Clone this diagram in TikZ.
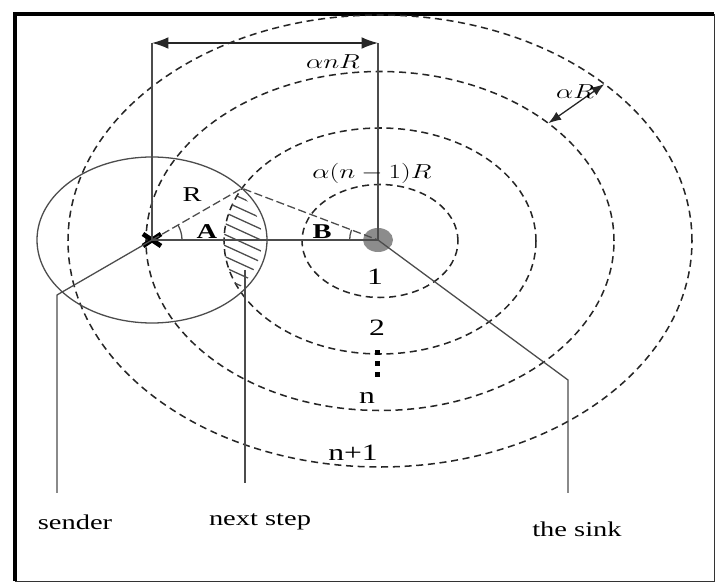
\documentclass[tikz,border=0pt]{standalone}
\usepackage{fontspec}
\setmainfont{Liberation Serif}
\usetikzlibrary{arrows.meta,calc,intersections,angles}

\begin{document}
\begin{tikzpicture}[x=0.03cm, y=0.03cm, >=Latex,
  ring/.style={black!85, line width=1.3pt, dash pattern=on 6pt off 4pt},
  thin line/.style={black!70, line width=1.1pt},
  ray/.style={black!70, line width=1.1pt, dash pattern=on 7pt off 3pt},
  lbl/.style={inner sep=0pt, xscale=1.35},
  ]
  \useasboundingbox (0,0) rectangle (715,584);

  % Frame
  \draw[black!80, line width=0.8pt] (15,3) rectangle (714,570);
  \draw[black, line width=4pt] (15,3) -- (15,570) -- (714,570);

  % Key points
  \coordinate (ctr) at (380,343);
  \coordinate (sender) at (152,344);
  \coordinate (sink) at (378,344);

  % Hop rings round the sink
  \foreach \k in {1,...,4}
    \draw[ring] (ctr) ellipse [x radius={78*\k}, y radius={56.5*\k}];
  \path[name path=ringtwo] (ctr) ellipse [x radius=156, y radius=113];

  % Transmission range of the sender
  \draw[thin line, name path=range] (sender) ellipse [x radius=115, y radius=83];
  \path[name intersections={of=range and ringtwo, sort by=range, by={lenstop,lensbot}}];

  % Hatched next-step region
  \begin{scope}
    \clip (sender) ellipse [x radius=110, y radius=78];
    \clip (ctr) ellipse [x radius=156, y radius=113];
    \foreach \k in {0,...,12}
      \draw[thin line] (215,{420-11*\k}) -- ++(70,-32);
  \end{scope}

  % Sink and sender marks
  \fill[black!45] (sink) ellipse [x radius=15, y radius=12];
  \draw[black, line width=4pt] (sender) ++(-9,-6) -- ++(18,12);
  \draw[black, line width=4pt] (sender) ++(-9,6) -- ++(18,-12);

  % Distances and angles
  \draw[thin line] (sender) -- (sink);
  \draw[ray] (sender) -- (lenstop) -- (sink);
  \pic[draw, thin line, angle radius=0.9cm] {angle=sink--sender--lenstop};
  \pic[draw, thin line, angle radius=0.85cm] {angle=lenstop--sink--sender};
  \node[lbl, font=\fontsize{18}{20}\selectfont\bfseries] (angA) at (207,352) {A};
  \node[lbl, font=\fontsize{18}{20}\selectfont\bfseries] (angB) at (322,352) {B};
  \node[lbl, font=\fontsize{18}{20}\selectfont] (rlbl) at (192,389) {R};

  \coordinate (dimL) at (152,541);
  \coordinate (dimR) at (378,541);
  \draw[thin line] (sender) -- (dimL);
  \draw[thin line] (sink) -- (dimR);
  \draw[<->, thin line, black!85, >={Latex[length=14pt,width=10pt]}] (dimL) -- (dimR);
  \node[lbl, font=\fontsize{17}{19}\selectfont] (anr) at (333,522) {$\alpha nR$};
  \node[lbl, font=\fontsize{17}{19}\selectfont] (an1r) at (372,411) {$\alpha(n-1)R$};

  \path (ctr) ++(44:234 and 169.5) coordinate (arin);
  \path (ctr) ++(44:312 and 226) coordinate (arout);
  \draw[<->, thin line, black!85, >={Latex[length=11pt,width=8pt]}] (arin) -- (arout);
  \node[lbl, font=\fontsize{17}{19}\selectfont] (ar) at (575,492) {$\alpha R$};

  % Ring numbers
  \node[lbl, font=\fontsize{20}{22}\selectfont] (hop1) at (375,307) {1};
  \node[lbl, font=\fontsize{20}{22}\selectfont] (hop2) at (377,256) {2};
  \foreach \yy in {229,218,207}
    \fill (375,\yy) rectangle ++(5,5);
  \node[lbl, font=\fontsize{20}{22}\selectfont] (hopn) at (367,186) {n};
  \node[lbl, font=\fontsize{20}{22}\selectfont] (hopn1) at (353,131) {n+1};

  % Callouts
  \coordinate (sendknee) at (57,289);
  \coordinate (sendfoot) at (57,91);
  \coordinate (steptop) at (245,314);
  \coordinate (stepfoot) at (245,101);
  \coordinate (sinkknee) at (568,204);
  \coordinate (sinkfoot) at (568,91);
  \draw[thin line] (sender) -- (sendknee) -- (sendfoot);
  \draw[thin line] (steptop) -- (stepfoot);
  \draw[thin line] (sink) -- (sinkknee) -- (sinkfoot);
  \node[lbl, font=\fontsize{18}{20}\selectfont] (sendtxt) at (75,62) {sender};
  \node[lbl, font=\fontsize{18}{20}\selectfont] (steptxt) at (260,62) {next step};
  \node[lbl, font=\fontsize{18}{20}\selectfont] (sinktxt) at (577,55) {the sink};
\end{tikzpicture}
\end{document}
